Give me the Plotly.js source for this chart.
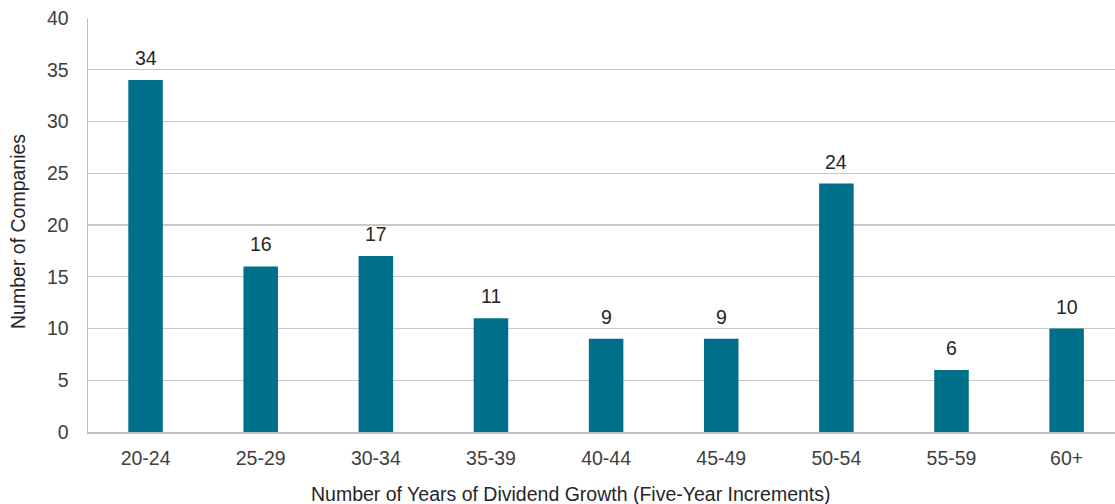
<!DOCTYPE html>
<html><head><meta charset="utf-8">
<script src="https://cdn.plot.ly/plotly-3.0.1.min.js"></script>
<style>html,body{margin:0;padding:0;background:#fff}#c{width:1115px;height:504px}</style>
</head><body><div id="c"></div>
<script>
const categories = ["20-24","25-29","30-34","35-39","40-44","45-49","50-54","55-59","60+"];
const companies = [34,16,17,11,9,9,24,6,10];
const yTicks = [0,5,10,15,20,25,30,35,40];
const xTitle = "Number of Years of Dividend Growth (Five-Year Increments)";
const yTitle = "Number of Companies";

const fam = "Liberation Sans, Arial, sans-serif";
const fs = 19.5;
const labels = categories.map((c,i)=>({x:c, y:companies[i], text:String(companies[i]), showarrow:false,
    yanchor:"bottom", yshift:9, font:{family:fam, size:fs, color:"#262626"}}));
Plotly.newPlot("c", [{
  type:"bar", x:categories, y:companies,
  marker:{color:"#00708a"},
  width:0.3,
  hoverinfo:"x+y"
}], {
  width:1115, height:504,
  margin:{l:88, r:0, t:18, b:72},
  paper_bgcolor:"#fff", plot_bgcolor:"#fff",
  font:{family:fam, size:fs, color:"#404040"},
  showlegend:false,
  annotations: labels.concat([
    {xref:"paper", yref:"paper", x:0.4703, y:-0.1498, xanchor:"center", yanchor:"middle", showarrow:false,
     text:xTitle, font:{family:fam, size:fs, color:"#262626"}},
    {xref:"paper", yref:"paper", x:-0.0682, y:0.4855, xanchor:"center", yanchor:"middle", showarrow:false,
     textangle:-90, text:yTitle, font:{family:fam, size:fs, color:"#262626"}}
  ]),
  xaxis:{type:"category", range:[-0.5, 8.42], showgrid:false, showline:true, linecolor:"#bfbfbf", linewidth:1.5,
    ticks:"", tickfont:{size:fs, color:"#404040"}, ticklabelstandoff:8},
  yaxis:{range:[0,40], tickvals:yTicks, showgrid:true, gridcolor:"#c8c8c8", gridwidth:1.2,
    showline:true, linecolor:"#bfbfbf", linewidth:1.5, zeroline:false, ticks:"",
    tickfont:{size:fs, color:"#404040"}, ticklabelstandoff:14}
}, {displayModeBar:false, staticPlot:true});
</script></body></html>
